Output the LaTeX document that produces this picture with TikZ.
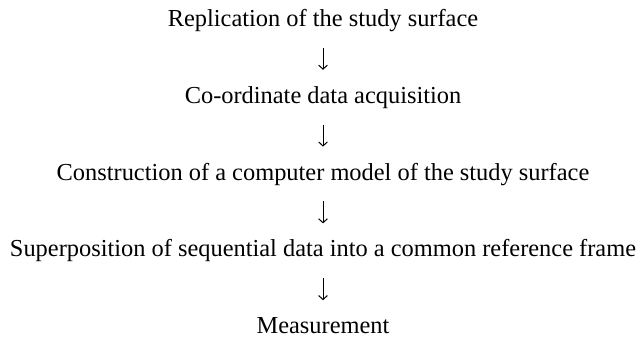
\documentclass[tikz,border=0pt]{standalone}
\usepackage{fontspec}
\setmainfont{Liberation Serif}
\usetikzlibrary{positioning,arrows.meta}
\tikzset{
  stage/.style ={font=\fontsize{12.2}{14}\selectfont, inner sep=0pt,
                 text height=8.5pt, text depth=2.5pt},
  flow/.style  ={-{Straight Barb[length=2pt,width=4.4pt]}, line width=0.5pt,
                 shorten <=8pt, shorten >=8pt},
}

\begin{document}
\begin{tikzpicture}[x=1pt,y=1pt,node distance=27pt]
\useasboundingbox (0,0) rectangle (320,-168);
% stages
\node[stage] (replica) at (161.5,-10.2) {Replication of the study surface};
\node[stage,below=of replica] (acquire) {Co-ordinate data acquisition};
\node[stage,below=of acquire] (model) {Construction of a computer model of the study surface};
\node[stage,below=of model] (superpos) {Superposition of sequential data into a common reference frame};
\node[stage,below=of superpos] (measure) {Measurement};
% arrows
\draw[flow] (replica) -- (acquire);
\draw[flow] (acquire) -- (model);
\draw[flow] (model) -- (superpos);
\draw[flow] (superpos) -- (measure);
\end{tikzpicture}
\end{document}
